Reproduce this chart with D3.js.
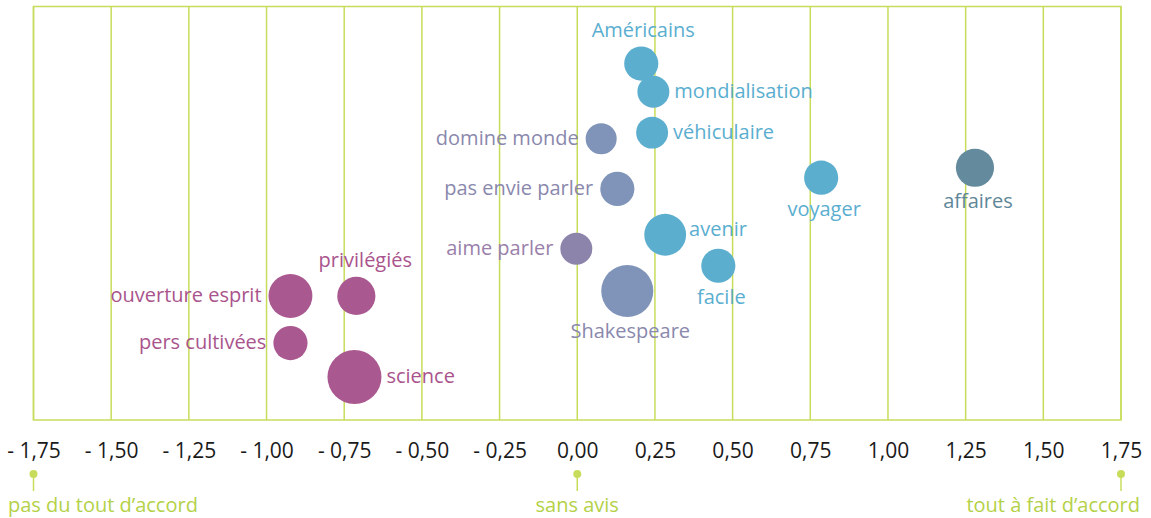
<!DOCTYPE html>
<html>
<head>
<meta charset="utf-8">
<script src="https://cdn.jsdelivr.net/npm/d3@7"></script>
<style>
  html, body { margin: 0; padding: 0; background: #fff; }
  svg text { font-family: "Open Sans", "Noto Sans", sans-serif; }
</style>
</head>
<body>
<div id="chart"></div>
<script>
// data
const labels = ['Américains', 'mondialisation', 'véhiculaire', 'domine monde', 'pas envie parler',
  'voyager', 'affaires', 'avenir', 'aime parler', 'facile', 'Shakespeare',
  'ouverture esprit', 'privilégiés', 'pers cultivées', 'science'];
const scores = [0.206, 0.245, 0.241, 0.077, 0.129, 0.785, 1.280, 0.283, -0.003, 0.454, 0.161,
  -0.923, -0.711, -0.923, -0.717];
const rows = [8.62, 7.94, 6.95, 6.80, 5.59, 5.86, 6.10, 4.48, 4.14, 3.73, 3.12, 3.00, 3.00, 1.86, 1.04];
const weights = [40, 35, 35, 33, 40, 40, 50, 60, 35, 40, 93, 66, 50, 40, 100];
const groups = ['bleu', 'bleu', 'bleu', 'ardoise', 'ardoise', 'bleu', 'petrole', 'bleu', 'mauve', 'bleu',
  'ardoise', 'prune', 'prune', 'prune', 'prune'];
const tickValues = [-1.75, -1.5, -1.25, -1, -0.75, -0.5, -0.25, 0, 0.25, 0.5, 0.75, 1, 1.25, 1.5, 1.75];
const anchors = [
  { value: -1.75, text: 'pas du tout d’accord' },
  { value: 0, text: 'sans avis' },
  { value: 1.75, text: 'tout à fait d’accord' }
];

const data = labels.map((l, i) => ({ label: l, x: scores[i], y: rows[i], w: weights[i], g: groups[i] }));

// styles
const fill = { bleu: '#5caecf', ardoise: '#7f94b8', mauve: '#8d84ac', prune: '#aa5890', petrole: '#648b9d' };
const ink = { bleu: '#5aaecf', ardoise: '#8a88ad', mauve: '#9a80aa', prune: '#a9548c', petrole: '#5f8799' };
// où placer l'étiquette
const place = {
  'Américains': 'top', 'mondialisation': 'right', 'véhiculaire': 'right', 'domine monde': 'left',
  'pas envie parler': 'left', 'voyager': 'bottom', 'affaires': 'bottom', 'avenir': 'rightUp',
  'aime parler': 'left', 'facile': 'bottom', 'Shakespeare': 'bottom', 'ouverture esprit': 'left',
  'privilégiés': 'topRight', 'pers cultivées': 'left', 'science': 'right'
};
const green = '#c8dc5c';
const greenText = '#b4d147';

const width = 1151, height = 518;
const m = { left: 33.5, right: 1121, top: 6.5, bottom: 420 };
const fs = 20;

const svg = d3.select('#chart').append('svg')
  .attr('width', width)
  .attr('height', height);

const x = d3.scaleLinear().domain([-1.75, 1.75]).range([m.left, m.right]);
const y = d3.scaleLinear().domain([0, 10]).range([m.bottom, m.top]);
const r = d3.scaleSqrt().domain([0, 100]).range([0, 27]);

// grille verticale
svg.append('g')
  .selectAll('line')
  .data(tickValues)
  .join('line')
    .attr('x1', d => x(d)).attr('x2', d => x(d))
    .attr('y1', m.top).attr('y2', m.bottom)
    .attr('stroke', green)
    .attr('stroke-width', 1.5);

svg.append('rect')
  .attr('x', m.left).attr('y', m.top)
  .attr('width', m.right - m.left).attr('height', m.bottom - m.top)
  .attr('fill', 'none')
  .attr('stroke', green)
  .attr('stroke-width', 1.5);

// axe du bas
const fmt = v => (v < 0 ? '- ' : '') + d3.format('.2f')(Math.abs(v)).replace('.', ',');
const axis = svg.append('g')
  .attr('transform', `translate(0,${m.bottom})`)
  .call(d3.axisBottom(x).tickValues(tickValues).tickFormat(fmt).tickSize(0).tickPadding(23));
axis.select('.domain').remove();
axis.selectAll('text')
  .attr('font-size', 21)
  .attr('fill', '#1a1a1a')
  .style('font-family', '"Open Sans", sans-serif');

// repères verts
const marks = svg.append('g');
marks.selectAll('line')
  .data(anchors)
  .join('line')
    .attr('x1', d => x(d.value)).attr('x2', d => x(d.value))
    .attr('y1', 474).attr('y2', 491)
    .attr('stroke', green).attr('stroke-width', 1.5);
marks.selectAll('circle')
  .data(anchors)
  .join('circle')
    .attr('cx', d => x(d.value)).attr('cy', 474).attr('r', 4)
    .attr('fill', green);
marks.selectAll('text')
  .data(anchors)
  .join('text')
    .attr('x', (d, i) => i === 0 ? 8 : i === 2 ? 1140 : x(d.value))
    .attr('y', 512)
    .attr('text-anchor', (d, i) => i === 0 ? 'start' : i === 2 ? 'end' : 'middle')
    .attr('font-size', fs)
    .attr('fill', greenText)
    .text(d => d.text);

// bulles
svg.append('g')
  .selectAll('circle')
  .data(data)
  .join('circle')
    .attr('cx', d => x(d.x))
    .attr('cy', d => y(d.y))
    .attr('r', d => r(d.w))
    .attr('fill', d => fill[d.g]);

// étiquettes
svg.append('g')
  .selectAll('text')
  .data(data)
  .join('text')
    .attr('font-size', fs)
    .attr('fill', d => ink[d.g])
    .each(function(d) {
      const cx = x(d.x), cy = y(d.y), rad = r(d.w);
      const t = d3.select(this);
      const p = place[d.label];
      if (p === 'top') t.attr('x', cx + 2).attr('y', cy - rad - 9).attr('text-anchor', 'middle');
      else if (p === 'topRight') t.attr('x', cx + 9).attr('y', cy - rad - 10).attr('text-anchor', 'middle');
      else if (p === 'bottom') t.attr('x', cx + 3).attr('y', cy + rad + 21).attr('text-anchor', 'middle');
      else if (p === 'left') t.attr('x', cx - rad - 7).attr('y', cy + 6).attr('text-anchor', 'end');
      else if (p === 'right') t.attr('x', cx + rad + 5).attr('y', cy + 6).attr('text-anchor', 'start');
      else if (p === 'rightUp') t.attr('x', cx + rad + 3).attr('y', cy + 1).attr('text-anchor', 'start');
    })
    .text(d => d.label);
</script>
</body>
</html>
